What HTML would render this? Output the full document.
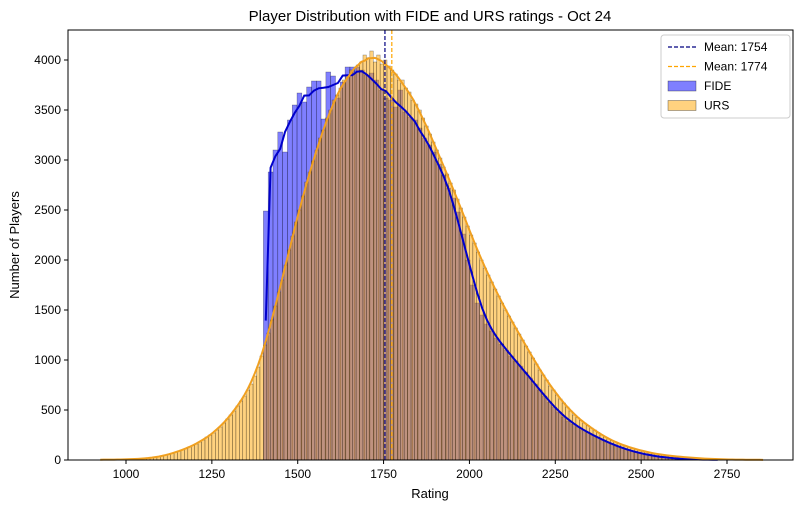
<!DOCTYPE html>
<html><head><meta charset="utf-8"><style>
body{margin:0;background:#fff;font-family:"Liberation Sans",sans-serif}
svg text{font-family:"Liberation Sans",sans-serif;fill:#000}
</style></head><body>
<svg id="chart" width="800" height="509" viewBox="0 0 800 509">
<text x="430" y="21" font-size="15" text-anchor="middle">Player Distribution with FIDE and URS ratings - Oct 24</text>
<g id="plot"></g>
<text x="430" y="498" font-size="13" text-anchor="middle">Rating</text>
<text x="19" y="245" font-size="13" text-anchor="middle" transform="rotate(-90 19 245)">Number of Players</text>
</svg>
<script>
const xTicks=[1000,1250,1500,1750,2000,2250,2500,2750];
const yTicks=[0,500,1000,1500,2000,2500,3000,3500,4000];
const ursStart=920, ursWidth=10;
const ursCounts=[2,3,3,4,4,5,5,6,7,8,9,11,13,15,18,22,26,32,40,48,55,65,78,90,102,115,128,145,160,180,200,230,250,270,300,330,370,410,450,490,540,590,640,700,760,840,930,1040,1150,1270,1400,1540,1680,1800,1950,2100,2240,2380,2500,2640,2780,2880,2990,3100,3220,3300,3420,3500,3600,3650,3720,3800,3850,3900,3880,3950,3980,4050,4020,4090,3980,4050,3960,4000,3940,3900,3860,3800,3800,3720,3680,3600,3560,3500,3420,3340,3260,3180,3100,3020,2930,2860,2770,2700,2610,2520,2430,2340,2250,2170,2080,2000,1920,1850,1780,1710,1640,1570,1500,1440,1380,1320,1260,1200,1140,1080,1020,960,900,850,800,740,700,650,610,570,530,490,450,425,395,370,345,320,300,275,250,230,210,195,180,165,150,140,128,118,108,98,90,82,74,67,60,55,50,45,41,38,35,32,29,26,23,20,18,16,14,12,10,9,8,7,6,5,5,4,4,3,3,3,2,2,2,1];
const fideStart=1400, fideWidth=14;
const fideCounts=[2490,2880,3100,3280,3080,3400,3550,3670,3580,3730,3790,3790,3410,3880,3840,3620,3780,3930,3930,3930,3900,3850,3870,3800,3700,3620,3600,3530,3700,3480,3430,3400,3320,3220,3150,3080,2960,2850,2720,2620,2480,2260,2000,1750,1570,1450,1360,1290,1220,1160,1100,1040,990,940,880,820,760,700,640,580,530,480,430,390,360,330,300,275,250,225,200,180,160,140,120,105,90,78,66,55,46,38,31,25,20,16,13,10,8,6,5,4,3,2,1];
const means=[1754,1774];
const L=68,R=793,T=30,B=460;
const X=v=>126+(v-1000)*(727-126)/1750;
const Y=v=>B-v*0.1;
const NS="http://www.w3.org/2000/svg";
const g=document.getElementById('plot');
function mk(t,a,p){const e=document.createElementNS(NS,t);for(const k in a)e.setAttribute(k,a[k]);(p||g).appendChild(e);return e;}
function bars(start,w,counts,fill,name){
 const grp=mk('g',{});
 
 
 counts.forEach((c,i)=>{
  const x0=X(start+i*w),x1=X(start+(i+1)*w);
  const r=mk('rect',{x:x0,y:Y(c),width:x1-x0,height:B-Y(c),fill:fill,'fill-opacity':0.5,stroke:'#000','stroke-opacity':0.45,'stroke-width':0.5},grp);
  
  
 });
}
bars(fideStart,fideWidth,fideCounts,'#0000ff','fide');
bars(ursStart,ursWidth,ursCounts,'#ffa500','urs');
function smooth(start,w,counts,col,name,k,edge){
 const pts=counts.map((c,i)=>{let s=0,n=0;for(let j=-k;j<=k;j++){const v=counts[i+j];if(v!==undefined){s+=v;n++;}}return [X(start+(i+0.5)*w),Y(s/n)];});
 if(edge){pts[0][1]=Y(counts[0]*0.56);pts[1][1]=(pts[1][1]+Y(counts[1]))/2;}
 const p=mk('polyline',{points:pts.map(q=>q.join(',')).join(' '),fill:'none',stroke:col,'stroke-width':2});
 
 
}
smooth(fideStart,fideWidth,fideCounts,'#0000cc','fide',3,true);
smooth(ursStart,ursWidth,ursCounts,'#f0a020','urs',3,false);
const mcol=['#000080','#ffa500'];
means.forEach((m,i)=>{
 const l=mk('line',{x1:X(m),x2:X(m),y1:T,y2:B,stroke:mcol[i],'stroke-width':1.2,'stroke-dasharray':'4,2'});
 
 
});
const fr=mk('rect',{x:L,y:T,width:R-L,height:B-T,fill:'none',stroke:'#000','stroke-width':1});


xTicks.forEach(t=>{
 mk('line',{x1:X(t),x2:X(t),y1:B,y2:B+4,stroke:'#000'});
 const tx=mk('text',{x:X(t),y:B+18,'font-size':12,'text-anchor':'middle'});tx.textContent=t;
 
 
});
yTicks.forEach(t=>{
 mk('line',{x1:L-4,x2:L,y1:Y(t),y2:Y(t),stroke:'#000'});
 const tx=mk('text',{x:L-7,y:Y(t)+4,'font-size':12,'text-anchor':'end'});tx.textContent=t;
 
 
});
const lg=mk('g',{});


mk('rect',{x:661,y:35,width:129,height:83,fill:'#fff','fill-opacity':0.85,stroke:'#ccc',rx:3},lg);
const items=[['line','#000080','Mean: 1754'],['line','#ffa500','Mean: 1774'],['box','#0000ff','FIDE'],['box','#ffa500','URS']];
items.forEach((it,i)=>{
 const y=47+i*19.5;
 if(it[0]==='line') mk('line',{x1:668,x2:696,y1:y,y2:y,stroke:it[1],'stroke-width':1.2,'stroke-dasharray':'4,2'},lg);
 else mk('rect',{x:668,y:y-5,width:28,height:10,fill:it[1],'fill-opacity':0.5,stroke:'#000','stroke-opacity':0.5,'stroke-width':0.6},lg);
 const t=mk('text',{x:704,y:y+4,'font-size':12},lg);t.textContent=it[2];
 
 
});
</script>
</body></html>
